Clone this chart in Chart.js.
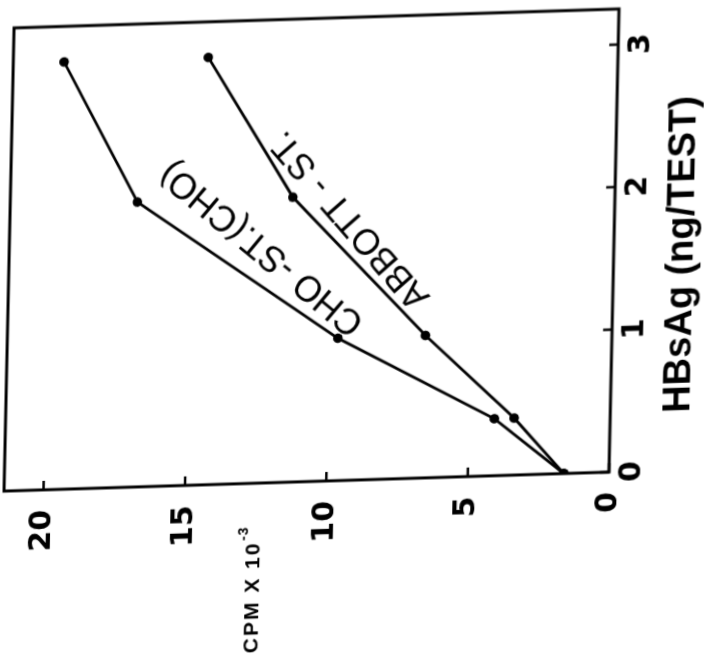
<!DOCTYPE html>
<html>
<head>
<meta charset="utf-8">
<script src="https://cdn.jsdelivr.net/npm/chart.js@4"></script>
<style>
  html, body { margin: 0; padding: 0; background: #fff; width: 704px; height: 663px; overflow: hidden; }
  /* the plot is laid out upright, then turned onto its side as printed */
  #wrap { position: absolute; left: 0; top: 0; width: 673px; height: 735px;
          transform-origin: 0 0;
          transform: matrix(0.02162, -1.0003, 1.0, -0.0314, -20.11, 681.8); }
</style>
</head>
<body>
<div id="wrap"><canvas id="c" width="673" height="735"></canvas></div>
<script>
// HBsAg dose per test (ng)
const doses = [0, 0.4, 1, 2, 3];
// counts, CPM x 10^-3
const choSt = [1.6, 4.1, 9.7, 16.9, 19.6];
const abbottSt = [1.6, 3.4, 6.6, 11.4, 14.5];
// axis ticks
const doseTicks = [0, 1, 2, 3];
const cpmTicks = [0, 5, 10, 15, 20];
// curve labels
const choLabel = 'CHO -ST.(CHO)';
const abbottLabel = 'ABBOTT - ST.';

const pairs = ys => doses.map((d, i) => ({ x: d, y: ys[i] }));

const lineStyle = {
  borderColor: '#000', borderWidth: 2.8, tension: 0,
  pointRadius: 4.8, pointBackgroundColor: '#000', pointBorderWidth: 0,
  fill: false
};

const decorations = {
  id: 'decorations',
  afterDatasetsDraw(chart) {
    const { ctx, chartArea: a, scales: { x, y } } = chart;
    ctx.save();
    ctx.strokeStyle = '#000';
    ctx.fillStyle = '#000';

    // frame
    ctx.lineWidth = 3;
    ctx.strokeRect(a.left, a.top, a.right - a.left, a.bottom - a.top);

    // inward tick marks
    ctx.lineWidth = 2.5;
    ctx.beginPath();
    doseTicks.forEach(v => {
      const px = x.getPixelForValue(v);
      ctx.moveTo(px, a.bottom); ctx.lineTo(px, a.bottom - 9);
    });
    cpmTicks.forEach(v => {
      const py = y.getPixelForValue(v);
      ctx.moveTo(a.left, py); ctx.lineTo(a.left + 9, py);
    });
    ctx.stroke();

    // x axis title
    ctx.font = 'bold 38px "Liberation Sans", Arial, sans-serif';
    ctx.textAlign = 'center';
    ctx.textBaseline = 'middle';
    ctx.fillText('HBsAg (ng/TEST)', (a.left + a.right) / 2 - 16, a.bottom + 69);

    // y axis title
    ctx.textAlign = 'left';
    ctx.textBaseline = 'middle';
    ctx.font = 'bold 21px "Liberation Sans", Arial, sans-serif';
    ctx.letterSpacing = '2px';
    const ty = y.getPixelForValue(12.5);
    const base = 'CPM X 10';
    ctx.fillText(base, 20, ty);
    const w = ctx.measureText(base).width;
    ctx.font = 'bold 14px "Liberation Sans", Arial, sans-serif';
    ctx.letterSpacing = '1px';
    ctx.fillText('-3', 20 + w + 1, ty - 10);
    ctx.letterSpacing = '0px';

    // curve labels
    ctx.font = '36px "Liberation Sans", Arial, sans-serif';
    ctx.textAlign = 'center';
    ctx.textBaseline = 'middle';
    const put = (txt, dx, dy, deg) => {
      ctx.save();
      ctx.translate(x.getPixelForValue(dx), y.getPixelForValue(dy));
      ctx.rotate(deg * Math.PI / 180);
      ctx.fillText(txt, 0, 0);
      ctx.restore();
    };
    put(choLabel, 1.65, 12.45, -50);
    put(abbottLabel, 1.83, 9.36, -41);

    ctx.restore();
  }
};

new Chart(document.getElementById('c'), {
  type: 'line',
  data: {
    datasets: [
      Object.assign({ label: choLabel, data: pairs(choSt) }, lineStyle),
      Object.assign({ label: abbottLabel, data: pairs(abbottSt) }, lineStyle)
    ]
  },
  options: {
    responsive: false,
    animation: false,
    devicePixelRatio: 1,
    layout: { padding: { top: 20, right: 20, left: 0, bottom: 0 } },
    plugins: { legend: { display: false }, tooltip: { enabled: false } },
    scales: {
      x: {
        type: 'linear', min: 0, max: 3.25,
        afterBuildTicks: s => { s.ticks = doseTicks.map(v => ({ value: v })); },
        afterFit: s => { s.height = 110; s.paddingLeft = 0; s.paddingRight = 0; },
        grid: { display: false, drawTicks: false },
        border: { display: false },
        ticks: {
          color: '#000', padding: 5, maxRotation: 0, autoSkip: false,
          font: { family: '"DejaVu Sans"', weight: 'bold', size: 30 }
        }
      },
      y: {
        type: 'linear', min: 0, max: 21.4,
        afterBuildTicks: s => { s.ticks = cpmTicks.map(v => ({ value: v })); },
        afterFit: s => { s.width = 190; s.paddingTop = 0; s.paddingBottom = 0; },
        grid: { display: false, drawTicks: false },
        border: { display: false },
        ticks: {
          color: '#000', padding: 20, autoSkip: false,
          font: { family: '"DejaVu Sans"', weight: 'bold', size: 30 }
        }
      }
    }
  },
  plugins: [decorations]
});
</script>
</body>
</html>
